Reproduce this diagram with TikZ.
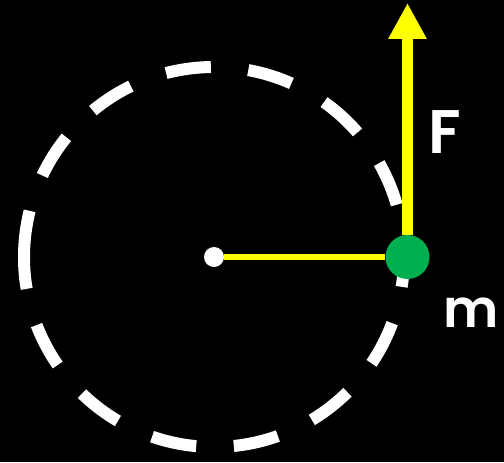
\documentclass[tikz,border=0pt]{standalone}
\usepackage{fontspec}
\setmainfont{Poppins}
\newfontfamily\labelfont{Poppins SemiBold}
\usetikzlibrary{arrows.meta}
\definecolor{forceyellow}{RGB}{255,255,0}
\definecolor{massgreen}{RGB}{0,176,80}

\begin{document}
\begin{tikzpicture}[
  dot/.style={circle,inner sep=0pt,minimum size=#1},
  lbl/.style={text=white,inner sep=0pt,font=\labelfont\fontsize{#1}{#1}\selectfont}
]
\fill[black] (0.000,0.000) rectangle (10.080,-9.240);
\useasboundingbox (0.000,0.000) rectangle (10.080,-9.240);
% path of the mass
\draw[white,line width=0.24cm,dash pattern=on 0.905cm off 0.753cm] (4.280,-5.140) ++(176:3.800) arc (176:536:3.800);
\node[dot=0.40cm,fill=white] (pivot) at (4.280,-5.140) {};
\node[dot=0.88cm,fill=massgreen] (mass) at (8.150,-5.140) {};
\coordinate (ftip) at (8.150,-0.060);
\draw[forceyellow,line width=0.12cm] (pivot) -- (mass);
\draw[forceyellow,line width=0.22cm,-{Triangle[width=0.72cm,length=0.72cm]}] (mass) -- (ftip);
\node[lbl=35] (flabel) at (8.900,-2.640) {F};
\node[lbl=30] (mlabel) at (9.420,-6.260) {m};
\end{tikzpicture}
\end{document}
